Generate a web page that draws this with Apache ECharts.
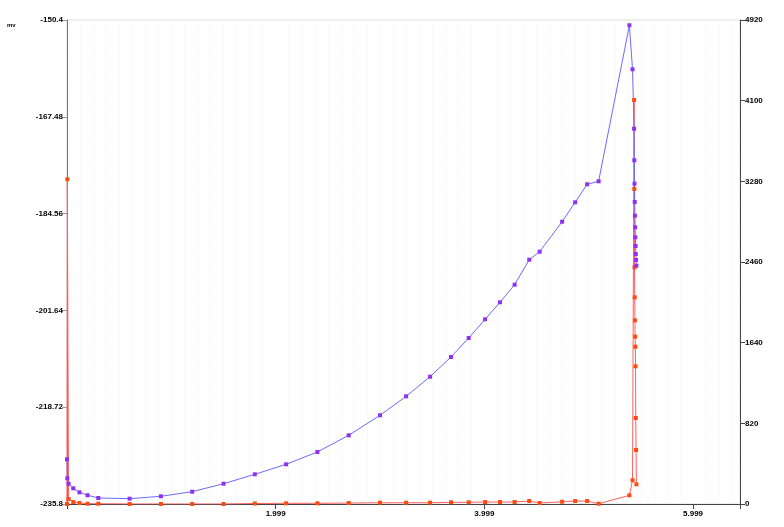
<!DOCTYPE html>
<html>
<head>
<meta charset="utf-8">
<script src="https://cdn.jsdelivr.net/npm/echarts@6/dist/echarts.min.js"></script>
<style>
  html, body { margin: 0; padding: 0; background: #fff; }
  #main { width: 784px; height: 527px; }
</style>
</head>
<body>
<div id="main"></div>
<script>
// shared time axis (s)
var times = [
  0, 0.003, 0.015, 0.06, 0.12, 0.197, 0.3, 0.6, 0.9, 1.2,
  1.5, 1.8, 2.1, 2.4, 2.7, 3.0, 3.25, 3.48, 3.68, 3.85,
  4.007, 4.15, 4.29, 4.43, 4.53, 4.745, 4.87, 4.985, 5.095, 5.39,
  5.42, 5.435, 5.437, 5.439, 5.441, 5.443, 5.445, 5.447, 5.449, 5.451,
  5.454, 5.457
];
// voltage, left axis (mv)
var voltage = [
  -227.91, -231.27, -232.22, -233.03, -233.74, -234.26, -234.74, -234.86, -234.44, -233.63,
  -232.22, -230.56, -228.8, -226.62, -223.68, -220.15, -216.8, -213.34, -209.86, -206.51,
  -203.21, -200.21, -197.1, -192.69, -191.28, -185.99, -182.57, -179.39, -178.86, -151.33,
  -159.1, -169.58, -175.15, -179.28, -182.51, -184.93, -186.98, -188.74, -190.28, -191.69,
  -192.75, -193.75
];
// second trace, right axis
var current = [
  0, 3301, 51, 20, 10, 3, 3, 0, 0, 0,
  0, 5, 7, 7, 10, 13, 13, 13, 17, 17,
  20, 20, 20, 30, 10, 23, 30, 30, 3, 88,
  241, 4107, 3202, 2406, 2101, 1867, 1701, 1599, 1400, 874,
  549, 200
];
var xTickLabels = { 2: '1.999', 4: '3.999', 6: '5.999' };

function pairs(ys) {
  return ys.map(function (y, i) { return [times[i], y]; });
}

var myChart = echarts.init(document.getElementById('main'));
var labelStyle = {
  color: '#000',
  fontSize: 8,
  fontWeight: 'bold',
  fontFamily: 'Liberation Sans, Arial, sans-serif'
};

myChart.setOption({
  animation: false,
  grid: {
    left: 67, right: 44, top: 20, bottom: 23,
    show: true, borderColor: '#dddddd', borderWidth: 1
  },
  graphic: [{
    type: 'text', left: 7, top: 22,
    style: { text: 'mv', fontSize: 6, fontWeight: 'bold', fill: '#000', fontFamily: 'Liberation Sans, Arial, sans-serif' }
  }],
  xAxis: {
    type: 'value',
    min: 0, max: 6.45, interval: 2,
    axisLine: { lineStyle: { color: '#444' } },
    axisTick: { length: 5, lineStyle: { color: '#444' } },
    axisLabel: Object.assign({
      margin: 6,
      formatter: function (v) { return xTickLabels[Math.round(v * 1000) / 1000] || ''; }
    }, labelStyle),
    splitLine: { show: false },
    minorTick: { show: false, splitNumber: 16 },
    minorSplitLine: { show: true, lineStyle: { color: '#f9f9f9' } }
  },
  yAxis: [{
    type: 'value',
    min: -235.8, max: -150.4, interval: 17.08,
    axisLine: { show: true, lineStyle: { color: '#777' } },
    axisTick: { show: true, length: 5, lineStyle: { color: '#999' } },
    axisLabel: Object.assign({ margin: 4 }, labelStyle),
    splitLine: { show: false },
    minorTick: { show: false, splitNumber: 8 },
    minorSplitLine: { show: true, lineStyle: { color: '#fcfcfc' } }
  }, {
    type: 'value',
    position: 'right',
    min: 0, max: 4920, interval: 820,
    axisLine: { show: true, lineStyle: { color: '#444' } },
    axisTick: { show: true, length: 5, lineStyle: { color: '#444' } },
    axisLabel: Object.assign({
      margin: 5,
      formatter: function (v) { return String(v); }
    }, labelStyle),
    splitLine: { show: false }
  }],
  series: [{
    name: 'current',
    type: 'line',
    yAxisIndex: 1,
    data: pairs(current),
    symbol: 'rect',
    symbolSize: 4,
    showAllSymbol: true,
    itemStyle: { color: '#ff4a10' },
    lineStyle: { color: '#ff6060', width: 1 }
  }, {
    name: 'voltage',
    type: 'line',
    yAxisIndex: 0,
    data: pairs(voltage),
    symbol: 'rect',
    symbolSize: 4,
    showAllSymbol: true,
    itemStyle: { color: '#9030f0' },
    lineStyle: { color: '#6a6aff', width: 1 }
  }]
});
</script>
</body>
</html>
